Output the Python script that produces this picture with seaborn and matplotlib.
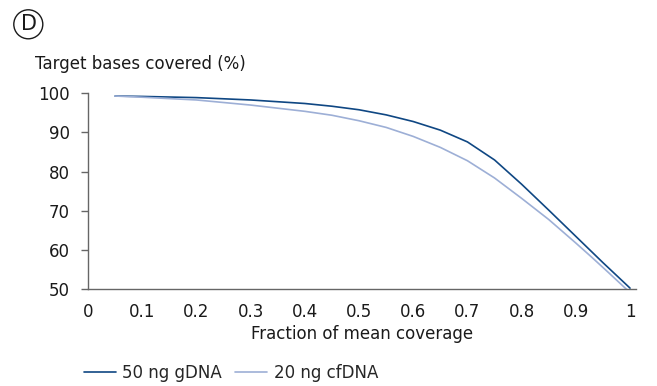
import matplotlib
matplotlib.use("Agg")
import matplotlib.pyplot as plt
from matplotlib.patches import Ellipse
from matplotlib.lines import Line2D
import seaborn as sns
import pandas as pd

# data
x_gdna = [0.05, 0.1, 0.2, 0.3, 0.4, 0.45, 0.5, 0.55, 0.6, 0.65, 0.7, 0.75, 0.8, 0.85, 0.9, 0.95, 1.0]
y_gdna = [99.3, 99.2, 98.9, 98.3, 97.4, 96.7, 95.8, 94.5, 92.8, 90.6, 87.6, 83.0, 76.8, 70.2, 63.5, 56.8, 50.3]
x_cfdna = [0.05, 0.1, 0.2, 0.3, 0.4, 0.45, 0.5, 0.55, 0.6, 0.65, 0.7, 0.75, 0.8, 0.85, 0.9, 0.93, 0.96, 0.995]
y_cfdna = [99.3, 99.0, 98.3, 97.0, 95.4, 94.4, 93.0, 91.3, 89.0, 86.2, 82.8, 78.4, 73.2, 67.8, 61.8, 58.1, 54.3, 49.8]
series_names = ["50 ng gDNA", "20 ng cfDNA"]
x_ticks = [0, 0.1, 0.2, 0.3, 0.4, 0.5, 0.6, 0.7, 0.8, 0.9, 1]
x_tick_labels = ["0", "0.1", "0.2", "0.3", "0.4", "0.5", "0.6", "0.7", "0.8", "0.9", "1"]
y_ticks = [50, 60, 70, 80, 90, 100]

df = pd.concat([
    pd.DataFrame({"x": x_gdna, "y": y_gdna, "s": series_names[0]}),
    pd.DataFrame({"x": x_cfdna, "y": y_cfdna, "s": series_names[1]}),
])

sns.set_theme(style="white")
plt.rcParams["font.family"] = ["DejaVu Sans"]
FS = 12
TXT = "#1a1a1a"

W, H = 657, 386
fig = plt.figure(figsize=(W / 100, H / 100), dpi=100)
ax = fig.add_axes([88 / W, 1 - 289.3 / H, 548 / W, 196 / H])
palette = {series_names[0]: "#0f4783", series_names[1]: "#9dafd6"}
sns.lineplot(data=df, x="x", y="y", hue="s", palette=palette, ax=ax,
             linewidth=1.2, sort=False, estimator=None, legend=False)

ax.set_xlim(0, 1.011)
ax.set_ylim(50, 100)
ax.set_xticks(x_ticks)
ax.set_xticklabels(x_tick_labels)
ax.set_yticks(y_ticks)
ax.tick_params(axis="x", length=0, pad=10, labelsize=FS, colors=TXT)
ax.tick_params(axis="y", length=5, width=1, color="#666666", pad=8, labelsize=FS,
               labelcolor=TXT, left=True)
for side in ["top", "right"]:
    ax.spines[side].set_visible(False)
for side in ["left", "bottom"]:
    ax.spines[side].set_color("#666666")
    ax.spines[side].set_linewidth(1.0)
ax.set_xlabel("Fraction of mean coverage", fontsize=FS, color=TXT, labelpad=3)
ax.set_ylabel("")

fig.text(35 / W, 1 - 69 / H, "Target bases covered (%)", fontsize=FS, color=TXT,
         ha="left", va="baseline")

# circled D
fig.patches.append(Ellipse((28.3 / W, 1 - 24.3 / H), 29 / W, 29 / H, transform=fig.transFigure,
                           fill=False, edgecolor=TXT, linewidth=1.0))
fig.text(28.8 / W, 1 - 24.3 / H, "D", fontsize=15, ha="center", va="center", color=TXT)

# legend
handles = [Line2D([], [], color=palette[n], linewidth=1.2) for n in series_names]
fig.legend(handles, series_names, loc="center left", bbox_to_anchor=(84 / W, 1 - 373 / H),
           ncol=2, frameon=False, fontsize=FS, handlelength=1.9, handletextpad=0.4,
           columnspacing=0.8, borderpad=0, borderaxespad=0)

fig.savefig("out.png", dpi=100)
